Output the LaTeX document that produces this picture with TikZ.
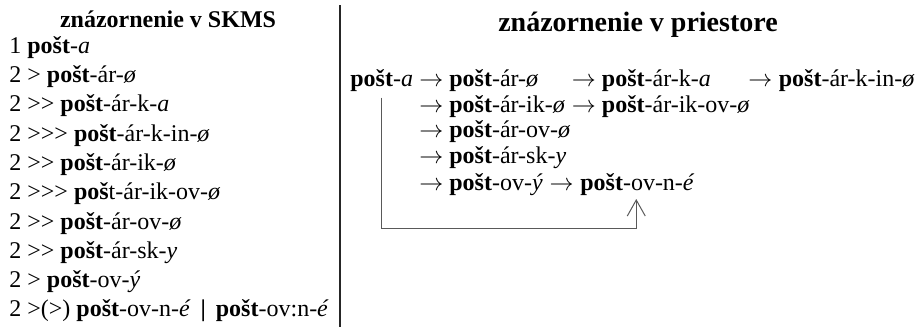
\documentclass[tikz,border=0pt]{standalone}
\usepackage{fontspec}
\setmainfont{Liberation Serif}
\usetikzlibrary{arrows.meta,positioning,calc}

\newcommand{\ps}{\textbf{pošt}}
\newcommand{\nul}{\textit{ø}}
\newcommand{\gr}{\textgreater\kern0pt}
\newcommand{\ra}{$\rightarrow$}

\begin{document}
\begin{tikzpicture}[x=0.5pt, y=-0.5pt,
    row/.style={anchor=base west, inner sep=0pt, font=\fontsize{12}{14}\selectfont},
    colhead/.style={anchor=base, inner sep=0pt, font=\fontsize{12}{14}\selectfont\bfseries},
    bighead/.style={anchor=base, inner sep=0pt, font=\fontsize{14}{17}\selectfont\bfseries},
    divider/.style={line width=0.7pt, black!85},
    back/.style={line width=0.5pt, black!65},
    >={Straight Barb[length=8pt, width=9pt]}
]
    \useasboundingbox (0,0) rectangle (922,327);

    % SKMS column
    \node[colhead] (h1) at (168,27) {znázornenie v SKMS};
    \node[row] (l1)  at (9,53)  {1 \ps-\textit{a}};
    \node[row] (l2)  at (9,82)  {2 \gr\ \ps-ár-\nul};
    \node[row] (l3)  at (9,111) {2 \gr\gr\ \ps-ár-k-\textit{a}};
    \node[row] (l4)  at (9,141) {2 \gr\gr\gr\ \ps-ár-k-in-\nul};
    \node[row] (l5)  at (9,170) {2 \gr\gr\ \ps-ár-ik-\nul};
    \node[row] (l6)  at (9,199) {2 \gr\gr\gr\ \textbf{poš}t-ár-ik-ov-\nul};
    \node[row] (l7)  at (9,229) {2 \gr\gr\ \ps-ár-ov-\nul};
    \node[row] (l8)  at (9,258) {2 \gr\gr\ \ps-ár-sk-\textit{y}};
    \node[row] (l9)  at (9,287) {2 \gr\ \ps-ov-\textit{ý}};
    \node[row] (l10) at (9,316) {2 \gr(\gr) \ps-ov-n-\textit{é} \,\textbf{|}\, \ps-ov:n-\textit{é}};

    \draw[divider] (340,5) -- (340,327);

    % space column
    \node[bighead] (h2) at (638,31) {znázornenie v priestore};

    \node[row] (pa)    at (350,86)  {\ps-\textit{a}};
    \node[row] (ar)    at (419,86)  {\ra\ \ps-ár-\nul};
    \node[row] (arik)  at (419,112) {\ra\ \ps-ár-ik-\nul};
    \node[row, base right=3pt of arik] (ariko) {\ra\ \ps-ár-ik-ov-\nul};
    \node[row] (ark)   at (ariko.base west |- pa.base) {\ra\ \ps-ár-k-\textit{a}};
    \node[row] (a3)    at (748,86)  {\ra};
    \node[row, anchor=base east] (arki) at (915,86) {\ps-ár-k-in-\nul};
    \node[row] (arov)  at (419,137.5) {\ra\ \ps-ár-ov-\nul};
    \node[row] (arsk)  at (419,163) {\ra\ \ps-ár-sk-\textit{y}};
    \node[row] (ovy)   at (419,190.5) {\ra\ \ps-ov-\textit{ý}};
    \node[row, base right=3pt of ovy] (a5) {\ra};
    \node[row, base right=3pt of a5] (ovne) {\ps-ov-n-\textit{é}};

    % back link
    \coordinate (start) at ($(pa.south west)!0.5!(pa.south east)$);
    \coordinate (tip) at ($(ovne.south west)!0.49!(ovne.south east)$);
    \coordinate (bot) at (0,228);
    \draw[back, ->] ([yshift=-3pt]start) -- (start |- bot) -| ([yshift=-1.5pt]tip);
\end{tikzpicture}
\end{document}
